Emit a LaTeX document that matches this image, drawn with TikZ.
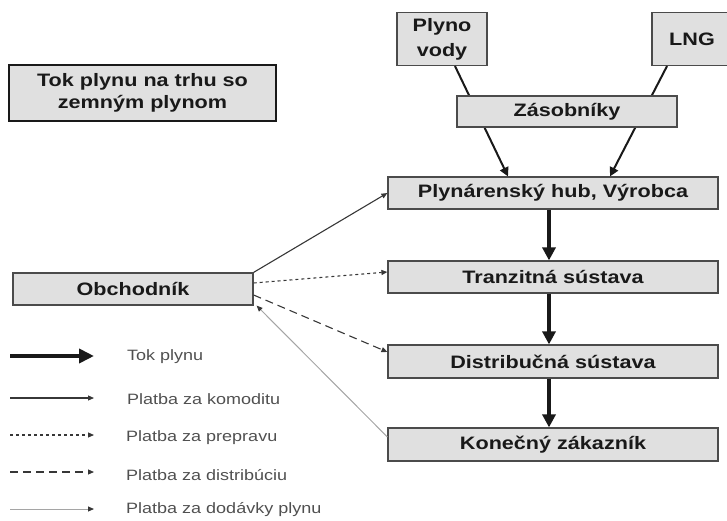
\documentclass[tikz,border=0pt]{standalone}
\usepackage{fontspec}
\setmainfont[FakeStretch=1.2]{Liberation Sans}
\usetikzlibrary{arrows.meta,calc}
\definecolor{boxfill}{RGB}{224,224,224}
\definecolor{boxline}{RGB}{75,75,75}
\definecolor{ink}{RGB}{25,25,25}
\definecolor{legtext}{RGB}{80,80,80}
\definecolor{paygray}{RGB}{55,55,55}
\definecolor{lightpay}{RGB}{165,165,165}
\begin{document}
\begin{tikzpicture}[x=1pt,y=-1pt,
  box/.style={draw=boxline, line width=1.2pt, fill=boxfill, text=ink, inner sep=0pt, align=center,
    font=\bfseries\fontsize{18}{22}\selectfont},
  flow/.style={draw=ink, line width=3.5pt, -{Triangle[length=13pt,width=13pt]}},
  supply/.style={draw=ink, line width=2pt, -{Triangle[length=9pt,width=9pt]}},
  pay/.style={draw=paygray, line width=1.1pt, -{Triangle[length=6pt,width=5pt]}},
  paydot/.style={pay, dash pattern=on 3pt off 3pt},
  paydash/.style={pay, dash pattern=on 8pt off 5pt},
  paylight/.style={draw=lightpay, line width=1pt, arrows={-{Triangle[length=6pt,width=5pt,color=paygray]}}},
  legend/.style={anchor=west, text=legtext, inner sep=0pt, font=\fontsize{15}{18}\selectfont}
]
\useasboundingbox (0,0) rectangle (727,521);

% title
\node[box, draw=ink, line width=2.6pt, minimum width=267pt, minimum height=56pt] (title) at (142.5,93) {Tok plynu na trhu so\\zemným plynom};

% sources
\node[box, minimum width=90pt, minimum height=53pt, font=\bfseries\fontsize{18}{25}\selectfont] (plyno) at (442,39) {Plyno\\vody};
\node[box, minimum width=80pt, minimum height=53pt] (lng) at (692,39) {LNG};

% main chain
\node[box, minimum width=330pt, minimum height=32pt] (hub) at (553,193) {Plynárenský hub, Výrobca};
\node[box, minimum width=330pt, minimum height=32pt] (tranzit) at (553,277) {Tranzitná sústava};
\node[box, minimum width=330pt, minimum height=33pt] (distrib) at (553,361.5) {Distribučná sústava};
\node[box, minimum width=330pt, minimum height=33pt] (konecny) at (553,444.5) {Konečný zákazník};

% supply lines (drawn beneath the storage box)
\draw[supply] ([xshift=13pt]plyno.south) -- ([xshift=-45pt]hub.north);
\draw[supply] ([xshift=-25pt]lng.south) -- ([xshift=57pt]hub.north);

\node[box, minimum width=220pt, minimum height=31pt] (zas) at (567,111.5) {Zásobníky};

% trader
\node[box, minimum width=240pt, minimum height=32pt] (obchod) at (133,289) {Obchodník};

% gas flow
\draw[flow] ([xshift=-4pt]hub.south) -- ([xshift=-4pt]tranzit.north);
\draw[flow] ([xshift=-4pt]tranzit.south) -- ([xshift=-4pt]distrib.north);
\draw[flow] ([xshift=-4pt]distrib.south) -- ([xshift=-4pt]konecny.north);

% payments
\draw[pay] (obchod.north east) -- (hub.west);
\draw[paydot] ([yshift=6pt]obchod.east) -- ([yshift=5pt]tranzit.west);
\draw[paydash] ([yshift=-6pt]obchod.east) -- ([yshift=9.5pt]distrib.west);
\draw[paylight] ([yshift=7.5pt]konecny.west) -- ([xshift=3pt]obchod.south east);

% legend
\coordinate (l1a) at (10,356); \coordinate (l1b) at (94,356);
\coordinate (l2a) at (10,398); \coordinate (l2b) at (94,398);
\coordinate (l3a) at (10,435); \coordinate (l3b) at (94,435);
\coordinate (l4a) at (10,472); \coordinate (l4b) at (94,472);
\coordinate (l5a) at (10,509); \coordinate (l5b) at (94,509);
\draw[draw=ink, line width=4.5pt, -{Triangle[length=15pt,width=14pt]}] (l1a) -- (l1b);
\draw[pay] (l2a) -- (l2b);
\draw[paydot] (l3a) -- (l3b);
\draw[paydash] (l4a) -- (l4b);
\draw[paylight] (l5a) -- (l5b);
\node[legend] (t1) at (127,357) {Tok plynu};
\node[legend] (t2) at (127,399) {Platba za komoditu};
\node[legend] (t3) at (126,438) {Platba za prepravu};
\node[legend] (t4) at (126,475) {Platba za distribúciu};
\node[legend] (t5) at (126,510) {Platba za dodávky plynu};
\end{tikzpicture}
\end{document}
